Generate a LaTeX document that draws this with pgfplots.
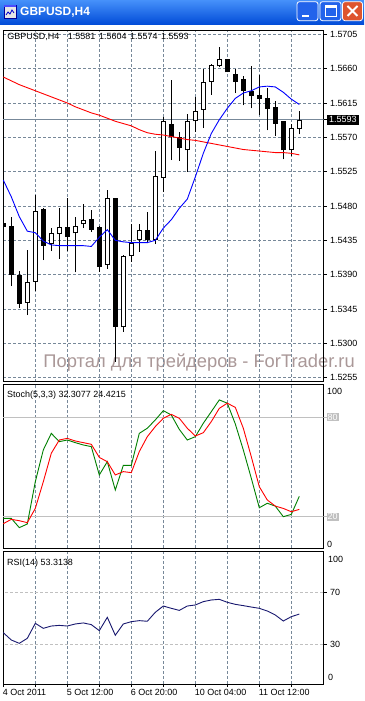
\documentclass[border=0pt]{standalone}
\usepackage{fontspec}
\setmainfont{Liberation Sans}
\usepackage{pgfplots}
\usepackage{pgfplotstable}
\pgfplotsset{compat=1.18}

\definecolor{gridc}{RGB}{119,136,153}
\definecolor{silverc}{RGB}{192,192,192}
\definecolor{stochgreen}{RGB}{0,128,0}
\definecolor{rsiblue}{RGB}{25,25,112}
\definecolor{wm}{RGB}{170,152,152}
\definecolor{mared}{RGB}{255,0,0}
\definecolor{mablue}{RGB}{0,0,255}

% bullish candles: k open high low close
\pgfplotstableread{
k o h l c
3 1.5353 1.5422 1.5337 1.5380
4 1.5381 1.5494 1.5369 1.5474
6 1.5430 1.5451 1.5421 1.5444
7 1.5443 1.5477 1.5411 1.5452
9 1.5444 1.5466 1.5393 1.5454
10 1.5456 1.5483 1.5451 1.5462
13 1.5403 1.5501 1.5398 1.5490
15 1.5321 1.5416 1.5315 1.5414
16 1.5414 1.5456 1.5407 1.5431
17 1.5435 1.5456 1.5420 1.5449
19 1.5435 1.5552 1.5430 1.5519
20 1.5517 1.5597 1.5498 1.5591
23 1.5553 1.5601 1.5525 1.5592
24 1.5591 1.5623 1.5577 1.5604
25 1.5606 1.5660 1.5582 1.5642
26 1.5643 1.5666 1.5626 1.5665
27 1.5663 1.5688 1.5662 1.5672
36 1.5553 1.5588 1.5546 1.5582
37 1.5581 1.5604 1.5574 1.5593
}\bullc

% bearish candles: k open high low close
\pgfplotstableread{
k o h l c
0 1.5458 1.5462 1.5425 1.5452
1 1.5454 1.5466 1.5375 1.5390
2 1.5390 1.5395 1.5346 1.5352
5 1.5476 1.5477 1.5409 1.5428
8 1.5452 1.5491 1.5421 1.5440
11 1.5463 1.5475 1.5446 1.5449
12 1.5452 1.5454 1.5394 1.5400
14 1.5491 1.5491 1.5276 1.5322
18 1.5449 1.5472 1.5431 1.5435
21 1.5588 1.5645 1.5540 1.5570
22 1.5570 1.5577 1.5539 1.5556
28 1.5673 1.5673 1.5655 1.5655
29 1.5653 1.5660 1.5628 1.5643
30 1.5646 1.5650 1.5612 1.5631
31 1.5631 1.5663 1.5608 1.5624
32 1.5625 1.5652 1.5599 1.5620
33 1.5622 1.5634 1.5579 1.5607
34 1.5610 1.5618 1.5572 1.5588
35 1.5592 1.5592 1.5541 1.5553
}\bearc

% moving averages
\pgfplotstableread{
k red blue
0 1.5649 1.5514
1 1.5644 1.5492
2 1.5639 1.5466
3 1.5635 1.5447
4 1.5631 1.5445
5 1.5627 1.5434
6 1.5623 1.5429
7 1.5619 1.5428
8 1.5615 1.5428
9 1.5610 1.5428
10 1.5606 1.5428
11 1.5602 1.5427
12 1.5599 1.5439
13 1.5595 1.5449
14 1.5591 1.5435
15 1.5588 1.5433
16 1.5585 1.5432
17 1.5580 1.5432
18 1.5576 1.5432
19 1.5574 1.5435
20 1.5573 1.5451
21 1.5571 1.5462
22 1.5569 1.5477
23 1.5567 1.5489
24 1.5566 1.5518
25 1.5564 1.5549
26 1.5562 1.5575
27 1.5560 1.5593
28 1.5558 1.5608
29 1.5556 1.5621
30 1.5554 1.5628
31 1.5553 1.5631
32 1.5552 1.5636
33 1.5551 1.5637
34 1.5550 1.5636
35 1.5550 1.5629
36 1.5549 1.5620
37 1.5547 1.5613
}\mas

% oscillators
\pgfplotstableread{
k K D rsi
0 19.0 15.8 38.8
1 19.0 18.4 33.1
2 13.4 17.6 30.5
3 15.6 16.4 34.4
4 41.1 25.0 46.1
5 60.3 41.1 42.2
6 70.3 58.3 44.0
7 65.3 66.3 44.5
8 66.3 67.3 44.0
9 64.7 65.7 45.6
10 63.3 64.7 46.4
11 62.3 63.7 45.1
12 45.2 55.8 40.4
13 53.2 53.2 50.8
14 36.1 45.2 36.8
15 51.0 47.2 45.6
16 51.0 46.6 47.4
17 70.3 59.3 48.2
18 73.4 68.3 47.7
19 78.4 74.4 54.7
20 84.0 79.4 59.6
21 81.4 81.8 57.8
22 72.7 79.4 56.2
23 66.3 73.4 59.6
24 68.3 68.7 60.4
25 76.4 70.7 63.0
26 83.4 77.4 64.3
27 90.5 85.4 64.8
28 88.5 88.5 62.5
29 76.0 86.0 60.9
30 60.3 73.4 59.9
31 43.2 56.2 58.8
32 25.4 38.1 57.8
33 28.1 30.1 55.7
34 26.4 26.4 52.6
35 20.0 25.0 47.9
36 21.4 23.0 51.3
37 32.3077 24.4215 53.3138
}\osc

\pgfplotsset{
  mtbase/.style={
    scale only axis, width=320.5bp,
    xmin=-0.0375, xmax=40.025,
    axis line style={black, line width=0.9bp},
    xmajorgrids=true, ymajorgrids=false,
    major grid style={draw=gridc, line width=0.8bp, dash pattern=on 3bp off 2bp},
    tick align=outside, major tick length=3bp,
    tick style={black, line width=0.8bp},
    ytick pos=right, yticklabel pos=right, xtick pos=bottom,
    ticklabel style={font=\fontsize{9}{10}\selectfont},
    clip=true,
  },
  wick/.style={draw=none, mark=none, forget plot,
    error bars/.cd, y dir=plus, y explicit, error mark=none,
    error bar style={draw=black, line width=1bp, solid}},
  bodyout/.style={draw=none, mark=none, forget plot,
    error bars/.cd, y dir=plus, y explicit, error mark=none,
    error bar style={draw=black, line width=5bp, solid}},
  bodyin/.style={draw=none, mark=none, forget plot,
    error bars/.cd, y dir=plus, y explicit, error mark=none,
    error bar style={draw=white, line width=3bp, solid}},
}

\begin{document}
\begin{tikzpicture}[x=1bp,y=1bp]
\path[use as bounding box] (0,0) rectangle (364,701);
\fill[white] (0,0) rectangle (364,701);

% window title bar
\shade[top color={rgb,255:red,70;green,145;blue,250}, middle color={rgb,255:red,0;green,88;blue,238}, bottom color={rgb,255:red,0;green,74;blue,215}] (0,676) rectangle (364,701);
\fill[white!80!gray] (4,683) rectangle (16,696);
\draw[blue!60!black, line width=0.6bp] (4,683) rectangle (16,696);
\fill[blue!70] (4,693.5) rectangle (16,696);
\draw[blue!80!black, line width=0.8bp] (6,686) -- (8,689) -- (10,687) -- (12,691) -- (14,688);
\node[anchor=base west, inner sep=0, text=white, font=\bfseries\fontsize{12}{14}\selectfont] at (20,685) {GBPUSD,H4};
\draw[white, line width=0.8bp, fill={rgb,255:red,34;green,99;blue,235}, rounded corners=2.5bp] (297,680.3) rectangle (318,699.3);
\fill[white] (301.5,683.5) rectangle (308.5,686);
\draw[white, line width=0.8bp, fill={rgb,255:red,34;green,99;blue,235}, rounded corners=2.5bp] (320,680.3) rectangle (341,699.3);
\draw[white, line width=1bp] (325,684.5) rectangle (336,695);
\fill[white] (325,693) rectangle (336,695.5);
\draw[white, line width=0.8bp, fill={rgb,255:red,222;green,84;blue,46}, rounded corners=2.5bp] (342.5,680.3) rectangle (362.5,699.3);
\draw[white, line width=2bp] (347.5,685) -- (357.5,695) (347.5,695) -- (357.5,685);

% watermark
\node[anchor=base west, inner sep=0, text=wm, font=\fontsize{18.4}{21}\selectfont] at (43.3,333.7) {Портал для трейдеров - ForTrader.ru};

% ---------------- price panel ----------------
\begin{axis}[mtbase, at={(3bp,319.3bp)}, anchor=south west, height=351.7bp,
  ymin=1.524976, ymax=1.571063, ymajorgrids=true,
  xtick={4,8,...,36}, xticklabels={}, xtick style={draw=none},
  ytick={1.5255,1.5300,1.5345,1.5390,1.5435,1.5480,1.5525,1.5570,1.5615,1.5660,1.5705},
  yticklabels={1.5255,1.5300,1.5345,1.5390,1.5435,1.5480,1.5525,1.5570,1.5615,1.5660,1.5705},
  extra y ticks={1.5593}, extra y tick labels={1.5593},
  extra y tick style={grid=none, yticklabel style={fill=black, text=white, inner xsep=2.5bp, inner ysep=2bp}},
]
\addplot[gridc, line width=0.9bp, forget plot] coordinates {(-1,1.5593) (41,1.5593)};
% wicks
\addplot[wick] table[x=k, y=l, y error plus expr=\thisrow{h}-\thisrow{l}] {\bullc};
\addplot[wick] table[x=k, y=l, y error plus expr=\thisrow{h}-\thisrow{l}] {\bearc};
% bodies
\addplot[bodyout] table[x=k, y=o, y error plus expr=\thisrow{c}-\thisrow{o}] {\bullc};
\addplot[bodyin] table[x=k, y expr=\thisrow{o}+0.00013, y error plus expr=\thisrow{c}-\thisrow{o}-0.00026] {\bullc};
\addplot[bodyout] table[x=k, y=c, y error plus expr=\thisrow{o}-\thisrow{c}] {\bearc};
% moving averages
\addplot[mared, line width=0.9bp, mark=none] table[x=k, y=red] {\mas};
\addplot[mablue, line width=0.9bp, mark=none] table[x=k, y=blue] {\mas};
\end{axis}

% ---------------- stochastic panel ----------------
\begin{axis}[mtbase, at={(3bp,152.7bp)}, anchor=south west, height=163.8bp,
  ymin=0.93, ymax=99.8,
  xtick={4,8,...,36}, xticklabels={}, xtick style={draw=none},
  ytick={20,80}, yticklabels={20,80}, ytick style={draw=silverc},
  yticklabel style={fill=silverc, text=white, inner xsep=1bp, inner ysep=0.8bp},
]
\addplot[silverc, line width=0.9bp, forget plot] coordinates {(-1,80) (41,80)};
\addplot[silverc, line width=0.9bp, forget plot] coordinates {(-1,20) (41,20)};
\addplot[stochgreen, line width=0.9bp, mark=none] table[x=k, y=K] {\osc};
\addplot[mared, line width=0.9bp, mark=none] table[x=k, y=D] {\osc};
\end{axis}

% ---------------- RSI panel ----------------
\begin{axis}[mtbase, at={(3bp,17bp)}, anchor=south west, height=132.5bp,
  ymin=-1.2, ymax=102.1,
  xtick={0,4,...,36},
  xticklabels={4 Oct 2011,,5 Oct 12:00,,6 Oct 20:00,,10 Oct 04:00,,11 Oct 12:00,},
  xticklabel style={anchor=north west, inner xsep=0pt, inner ysep=2bp, xshift=-0.6bp},
  ytick={30,70}, yticklabels={30,70},
]
\addplot[silverc, line width=0.9bp, dash pattern=on 3bp off 2bp, forget plot] coordinates {(-1,70) (41,70)};
\addplot[silverc, line width=0.9bp, dash pattern=on 3bp off 2bp, forget plot] coordinates {(-1,30) (41,30)};
\addplot[rsiblue, line width=0.9bp, mark=none] table[x=k, y=rsi] {\osc};
\end{axis}

% panel texts
\begin{scope}[every node/.style={inner sep=0, font=\fontsize{9}{10}\selectfont}]
\node[anchor=base west] at (7.3,661.7) {GBPUSD,H4};
\node[anchor=base west] at (67.7,661.7) {1.5581};
\node[anchor=base west] at (99,661.7) {1.5604};
\node[anchor=base west] at (130,661.7) {1.5574};
\node[anchor=base west] at (161,661.7) {1.5593};
\node[anchor=base west] at (7,303.5) {Stoch(5,3,3) 32.3077 24.4215};
\node[anchor=base west] at (7,135) {RSI(14) 53.3138};
\node[anchor=west] at (327,309.3) {100};
\node[anchor=west] at (327,157) {0};
\node[anchor=west] at (328,141.7) {100};
\node[anchor=west] at (328,23.3) {0};
\end{scope}
\end{tikzpicture}
\end{document}
